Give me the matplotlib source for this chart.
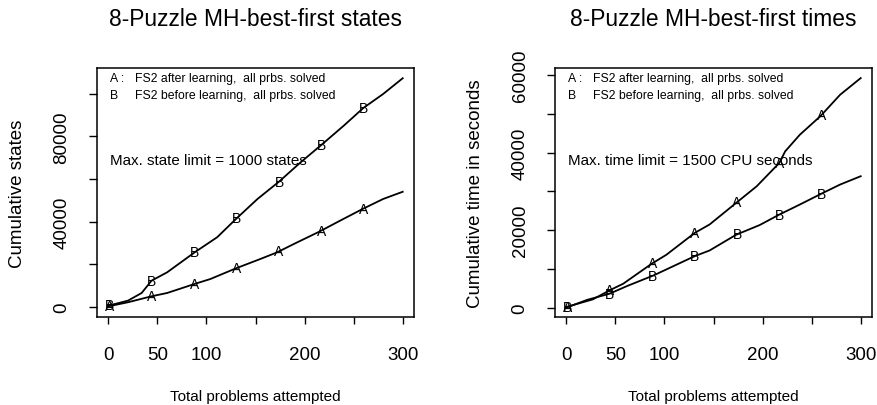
import matplotlib
matplotlib.use('Agg')
import matplotlib.pyplot as plt
import numpy as np

plt.rcParams['font.family'] = ['Liberation Sans', 'DejaVu Sans']

# cumulative states (left panel)
states_b_x = [0, 20, 34, 40, 44, 60, 88, 111, 130, 152, 174, 196, 217, 240, 260, 280, 300]
states_b_y = [600, 2950, 6560, 10000, 12300, 16250, 25600, 32700, 41200, 50600, 58750, 67800,
              75900, 85000, 93300, 99800, 107200]
states_a_x = [0, 20, 44, 60, 88, 104, 130, 155, 172, 189, 215, 236, 259, 280, 300]
states_a_y = [300, 2200, 5000, 6560, 10800, 13100, 18100, 22500, 25600, 29500, 35300, 40400,
              45900, 50600, 54000]

# cumulative times (right panel)
times_a_x = [0, 27, 44, 58, 87, 102, 131, 146, 173, 194, 217, 223, 238, 259, 279, 300]
times_a_y = [180, 2140, 4460, 6180, 11330, 13650, 19300, 21450, 27000, 31300, 37300, 40300,
             44600, 49400, 54900, 59200]
times_b_x = [0, 21, 44, 62, 89, 109, 131, 146, 173, 197, 217, 238, 260, 279, 300]
times_b_y = [0, 2000, 3600, 5590, 8330, 10700, 13300, 14750, 18800, 21300, 24000, 26600,
             29400, 31750, 33900]

# problems where the series letter is printed
mark_x = [1, 44, 88, 131, 174, 217, 260]

x_ticks = [0, 50, 100, 150, 200, 250, 300]
x_ticklabels = ['0', '50', '100', '', '200', '', '300']

legend_a = 'FS2 after learning,  all prbs. solved'
legend_b = 'FS2 before learning,  all prbs. solved'


def draw_series(ax, xs, ys, letter):
    ax.plot(xs, ys, color='black', lw=1.3)
    for m in mark_x:
        ax.text(m, np.interp(m, xs, ys), letter, ha='center', va='center', fontsize=10)


def style_axis(ax, ylim, yticks, ylabels, title, ylabel, note):
    ax.set_xlim(-11.5, 311.5)
    ax.set_ylim(*ylim)
    ax.set_xticks(x_ticks)
    ax.set_xticklabels(x_ticklabels)
    ax.set_yticks(yticks)
    ax.set_yticklabels(ylabels, rotation=90, va='center')
    ax.tick_params(axis='x', direction='out', length=5, width=1, labelsize=13.5, pad=16)
    ax.tick_params(axis='y', direction='out', length=6, width=1, labelsize=13.5, pad=13)
    for s in ax.spines.values():
        s.set_linewidth(1.1)
    ax.text(0.5, 1.2, title, transform=ax.transAxes, ha='center', va='center', fontsize=16.4)
    ax.set_ylabel(ylabel, fontsize=13.5, va='center')
    ax.yaxis.set_label_coords(-0.252, 0.5)
    ax.set_xlabel('Total problems attempted', fontsize=11, va='center')
    ax.xaxis.set_label_coords(0.5, -0.317)
    ax.text(0.04, 0.96, 'A :', transform=ax.transAxes, ha='left', va='center', fontsize=8.8)
    ax.text(0.12, 0.96, legend_a, transform=ax.transAxes, ha='left', va='center', fontsize=8.8)
    ax.text(0.04, 0.893, 'B', transform=ax.transAxes, ha='left', va='center', fontsize=8.8)
    ax.text(0.12, 0.893, legend_b, transform=ax.transAxes, ha='left', va='center', fontsize=8.8)
    ax.text(0.042, 0.63, note, transform=ax.transAxes, ha='left', va='center', fontsize=10.9)


fig = plt.figure(figsize=(8.77, 4.06), dpi=100)
ax1 = fig.add_axes([97 / 877, 88 / 406, 317 / 877, 249 / 406])
ax2 = fig.add_axes([555 / 877, 88 / 406, 317 / 877, 249 / 406])

draw_series(ax1, states_b_x, states_b_y, 'B')
draw_series(ax1, states_a_x, states_a_y, 'A')
style_axis(ax1, (-4700, 112000), [0, 20000, 40000, 60000, 80000, 100000],
           ['0', '', '40000', '', '80000', ''],
           '8-Puzzle MH-best-first states', 'Cumulative states',
           'Max. state limit = 1000 states')

draw_series(ax2, times_a_x, times_a_y, 'A')
draw_series(ax2, times_b_x, times_b_y, 'B')
style_axis(ax2, (-2400, 61800), [0, 10000, 20000, 30000, 40000, 50000, 60000],
           ['0', '', '20000', '', '40000', '', '60000'],
           '8-Puzzle MH-best-first times', 'Cumulative time in seconds',
           'Max. time limit = 1500 CPU seconds')

fig.savefig('out.png', dpi=100)
